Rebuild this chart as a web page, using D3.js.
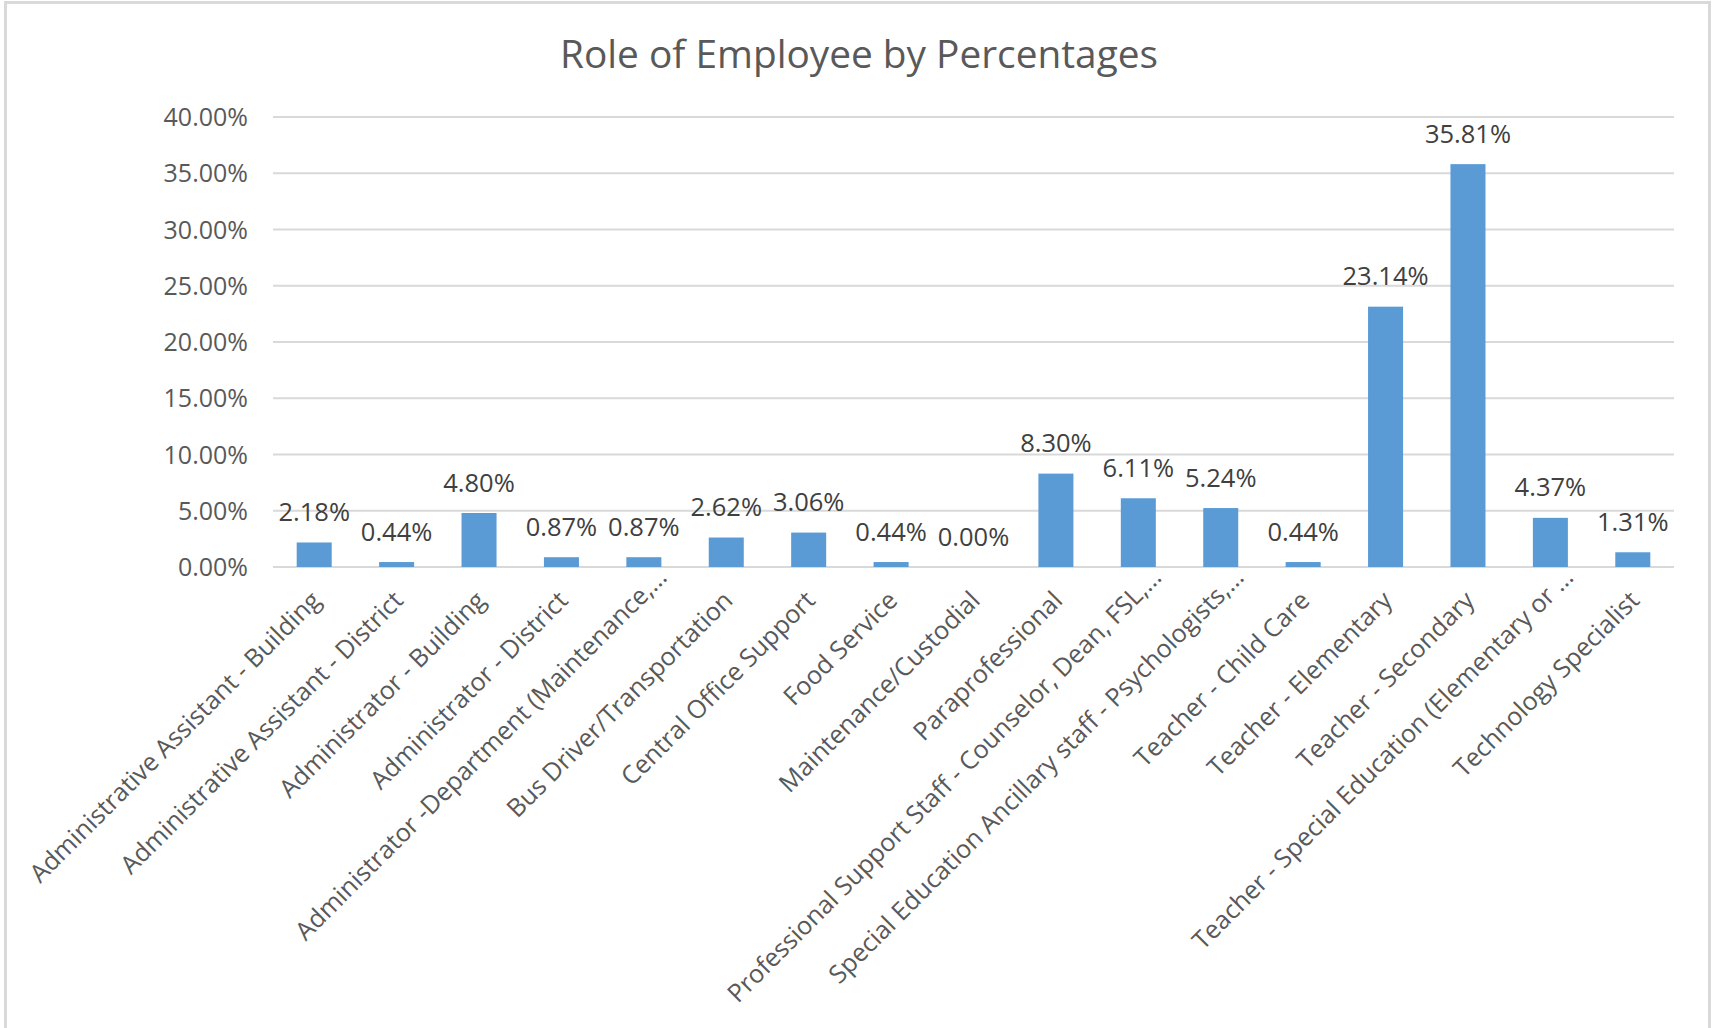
<!DOCTYPE html>
<html>
<head>
<meta charset="utf-8">
<script src="https://cdn.jsdelivr.net/npm/d3@7/dist/d3.min.js"></script>
<style>
  html, body { margin: 0; padding: 0; background: #ffffff; }
  svg { display: block; }
  text { font-family: "Open Sans", "Noto Sans", sans-serif; }
</style>
</head>
<body>
<svg id="chart" width="1713" height="1028"></svg>
<script>
const title = "Role of Employee by Percentages";

const categories = [
  "Administrative Assistant - Building",
  "Administrative Assistant - District",
  "Administrator - Building",
  "Administrator - District",
  "Administrator -Department (Maintenance,…",
  "Bus Driver/Transportation",
  "Central Office Support",
  "Food Service",
  "Maintenance/Custodial",
  "Paraprofessional",
  "Professional Support Staff - Counselor, Dean, FSL,…",
  "Special Education Ancillary staff - Psychologists,…",
  "Teacher - Child Care",
  "Teacher - Elementary",
  "Teacher - Secondary",
  "Teacher - Special Education (Elementary or …",
  "Technology Specialist"
];

const values = [
  0.0218, 0.0044, 0.0480, 0.0087, 0.0087, 0.0262, 0.0306, 0.0044, 0.0000,
  0.0830, 0.0611, 0.0524, 0.0044, 0.2314, 0.3581, 0.0437, 0.0131
];

const yTicks = [0, 0.05, 0.10, 0.15, 0.20, 0.25, 0.30, 0.35, 0.40];

const data = categories.map((c, i) => ({ cat: c, val: values[i] }));

const svg = d3.select("#chart");
const plot = { left: 273, right: 1674, top: 117, bottom: 567 };

// chart border
svg.append("rect")
  .attr("x", 5.5).attr("y", 2.5)
  .attr("width", 1704).attr("height", 1040)
  .attr("fill", "#ffffff")
  .attr("stroke", "#D9D9D9").attr("stroke-width", 3);

const x = d3.scaleBand()
  .domain(categories)
  .range([plot.left, plot.right])
  .paddingInner(0.575)
  .paddingOuter(0.2875);

const y = d3.scaleLinear()
  .domain([0, 0.40])
  .range([plot.bottom, plot.top]);

// title
svg.append("text")
  .attr("x", 859).attr("y", 68)
  .attr("text-anchor", "middle")
  .attr("fill", "#595959")
  .style("font-size", "38.8px")
  .text(title);

// gridlines
svg.append("g")
  .selectAll("line")
  .data(yTicks)
  .join("line")
  .attr("x1", plot.left).attr("x2", plot.right)
  .attr("y1", d => y(d)).attr("y2", d => y(d))
  .attr("stroke", "#D9D9D9").attr("stroke-width", 2);

// y axis
const yAxis = d3.axisLeft(y).tickValues(yTicks).tickFormat(d3.format(".2%")).tickSize(0).tickPadding(25);
const gy = svg.append("g").attr("transform", `translate(${plot.left},0)`).call(yAxis);
gy.select(".domain").remove();
gy.selectAll("text")
  .attr("fill", "#595959")
  .style("font-size", "25px")
  .attr("dy", "0.34em")
  .style("font-family", "'Open Sans', sans-serif");

// bars
svg.append("g")
  .selectAll("rect")
  .data(data)
  .join("rect")
  .attr("x", d => x(d.cat))
  .attr("width", x.bandwidth())
  .attr("y", d => y(d.val))
  .attr("height", d => y(0) - y(d.val))
  .attr("fill", "#5B9BD5");

// data labels
svg.append("g")
  .selectAll("text")
  .data(data)
  .join("text")
  .attr("x", d => x(d.cat) + x.bandwidth() / 2)
  .attr("y", d => y(d.val) - 21.5)
  .attr("text-anchor", "middle")
  .attr("fill", "#404040")
  .style("font-size", "25.5px")
  .text(d => d3.format(".2%")(d.val));

// x axis labels
const xAxis = d3.axisBottom(x).tickSize(0).tickPadding(0);
const gx = svg.append("g").attr("transform", `translate(0,${plot.bottom})`).call(xAxis);
gx.select(".domain").remove();
gx.selectAll(".tick text")
  .attr("fill", "#595959")
  .style("font-size", "25.2px")
  .style("font-family", "'Open Sans', sans-serif")
  .attr("text-anchor", "end")
  .attr("dy", null)
  .attr("y", 0)
  .attr("transform", d => d.endsWith("…")
    ? "translate(8,35) rotate(-45) translate(28,-4.6)"
    : "translate(8,35) rotate(-45)");
</script>
</body>
</html>
